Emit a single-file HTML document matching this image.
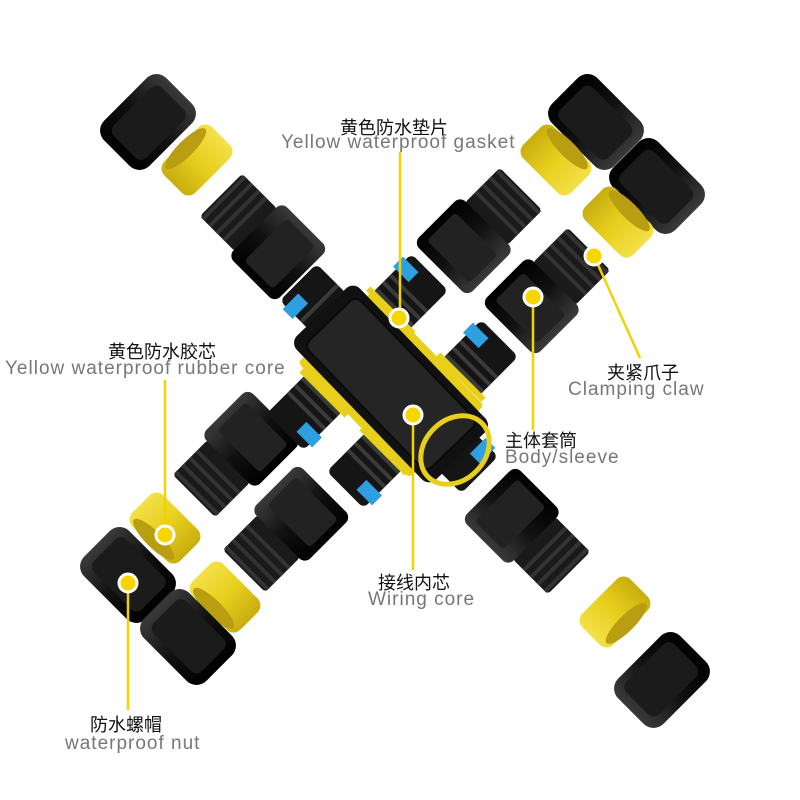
<!DOCTYPE html>
<html><head><meta charset="utf-8"><style>
html,body{margin:0;padding:0;background:#fff;}
.wrap{position:relative;width:800px;height:800px;overflow:hidden;font-family:"Liberation Sans","Noto Sans CJK SC",sans-serif;}
.t{position:absolute;white-space:nowrap;}
.cn{font-size:18px;color:#111;}
.en{font-size:19px;color:#777;letter-spacing:1px;}
</style></head><body><div class="wrap">
<svg width="800" height="800" style="position:absolute;left:0;top:0">
<defs>
<linearGradient id="blk" x1="0" y1="0" x2="0" y2="1"><stop offset="0" stop-color="#3a3a3a"/><stop offset=".5" stop-color="#111"/><stop offset="1" stop-color="#000"/></linearGradient>
<linearGradient id="yel" x1="0" y1="0" x2="0" y2="1"><stop offset="0" stop-color="#f4e04a"/><stop offset=".5" stop-color="#e8cf1c"/><stop offset="1" stop-color="#c8ad10"/></linearGradient>
<g id="nut"><rect x="-32" y="-44" width="64" height="88" rx="14" fill="url(#blk)"/><rect x="-22" y="-34" width="46" height="68" rx="8" fill="#1b1b1b"/></g>
<g id="ring"><rect x="-22" y="-34" width="44" height="68" rx="10" fill="url(#yel)"/><ellipse cx="-16" cy="0" rx="8" ry="28" fill="#b89e10"/></g>
<g id="gland"><rect x="-58" y="-30" width="50" height="60" rx="4" fill="#1a1a1a"/><g fill="#333"><rect x="-56" y="-30" width="4" height="60"/><rect x="-46" y="-30" width="4" height="60"/><rect x="-36" y="-30" width="4" height="60"/><rect x="-26" y="-30" width="4" height="60"/></g><rect x="-10" y="-38" width="66" height="76" rx="8" fill="url(#blk)"/><rect x="5" y="-30" width="40" height="60" rx="4" fill="#222"/></g>
<g id="arm"><rect x="-28" y="-26" width="56" height="52" rx="6" fill="#151515"/><g fill="#3a3a3a"><rect x="-24" y="-26" width="4" height="52"/><rect x="-14" y="-26" width="4" height="52"/><rect x="-4" y="-26" width="4" height="52"/></g><rect x="6" y="-30" width="14" height="22" fill="#2e9fe0"/><rect x="-30" y="-32" width="6" height="64" fill="#e8cf1c"/></g>
</defs>
<use href="#nut" transform="translate(148,122) rotate(45)"/>
<use href="#ring" transform="translate(197,160) rotate(45)"/>
<use href="#gland" transform="translate(262,236) rotate(45)"/>
<use href="#nut" transform="translate(596,122) rotate(135)"/>
<use href="#nut" transform="translate(657,186) rotate(135)"/>
<use href="#ring" transform="translate(556,160) rotate(135)"/>
<use href="#ring" transform="translate(618,222) rotate(135)"/>
<use href="#gland" transform="translate(480,230) rotate(135)"/>
<use href="#gland" transform="translate(548,290) rotate(135)"/>
<use href="#gland" transform="translate(235,455) rotate(-45)"/>
<use href="#gland" transform="translate(285,530) rotate(-45)"/>
<use href="#ring" transform="translate(165,528) rotate(-45)"/>
<use href="#ring" transform="translate(225,597) rotate(-45)"/>
<use href="#nut" transform="translate(128,575) rotate(-45)"/>
<use href="#nut" transform="translate(188,637) rotate(-45)"/>
<use href="#gland" transform="translate(528,532) rotate(225)"/>
<use href="#ring" transform="translate(615,612) rotate(225)"/>
<use href="#nut" transform="translate(662,680) rotate(225)"/>
<use href="#arm" transform="translate(318,302) rotate(-135)"/>
<use href="#arm" transform="translate(410,292) rotate(-45)"/>
<use href="#arm" transform="translate(480,358) rotate(-45)"/>
<use href="#arm" transform="translate(305,412) rotate(135)"/>
<use href="#arm" transform="translate(365,470) rotate(135)"/>
<use href="#arm" transform="translate(460,455) rotate(45)"/>
<g transform="translate(391,384) rotate(46)">
<rect x="-80" y="-52" width="160" height="104" rx="4" fill="#e8cf1c"/>
<rect x="-100" y="-44" width="200" height="88" rx="10" fill="#111"/>
<rect x="-88" y="-36" width="176" height="72" rx="8" fill="#252525" stroke="#0a0a0a" stroke-width="2"/>
</g>
<ellipse cx="455" cy="450" rx="30" ry="38" transform="rotate(45 455 450)" fill="none" stroke="#e8cf1c" stroke-width="5"/>
<g stroke="#f2d200" stroke-width="2.5" fill="none">
<line x1="400" y1="152" x2="400" y2="318"/>
<line x1="165" y1="380" x2="165" y2="535"/>
<line x1="594" y1="256" x2="640" y2="358"/>
<line x1="533" y1="297" x2="533" y2="430"/>
<line x1="413" y1="415" x2="413" y2="570"/>
<line x1="128" y1="583" x2="128" y2="710"/>
</g>
<g fill="#f7d600" stroke="#fff" stroke-width="3">
<circle cx="399" cy="318" r="9"/><circle cx="165" cy="535" r="9"/><circle cx="594" cy="256" r="9"/>
<circle cx="533" cy="297" r="9"/><circle cx="413" cy="415" r="9"/><circle cx="128" cy="583" r="9"/>
</g>
</svg>
<div class="t cn" style="left:340px;top:114px">黄色防水垫片</div>
<div class="t en" style="left:281px;top:132px">Yellow waterproof gasket</div>
<div class="t cn" style="left:108px;top:338px">黄色防水胶芯</div>
<div class="t en" style="left:5px;top:358px">Yellow waterproof rubber core</div>
<div class="t cn" style="left:607px;top:359px">夹紧爪子</div>
<div class="t en" style="left:568px;top:379px">Clamping claw</div>
<div class="t cn" style="left:505px;top:427px">主体套筒</div>
<div class="t en" style="left:505px;top:447px">Body/sleeve</div>
<div class="t cn" style="left:378px;top:569px">接线内芯</div>
<div class="t en" style="left:368px;top:589px">Wiring core</div>
<div class="t cn" style="left:90px;top:711px">防水螺帽</div>
<div class="t en" style="left:65px;top:733px">waterproof nut</div>
</div></body></html>
